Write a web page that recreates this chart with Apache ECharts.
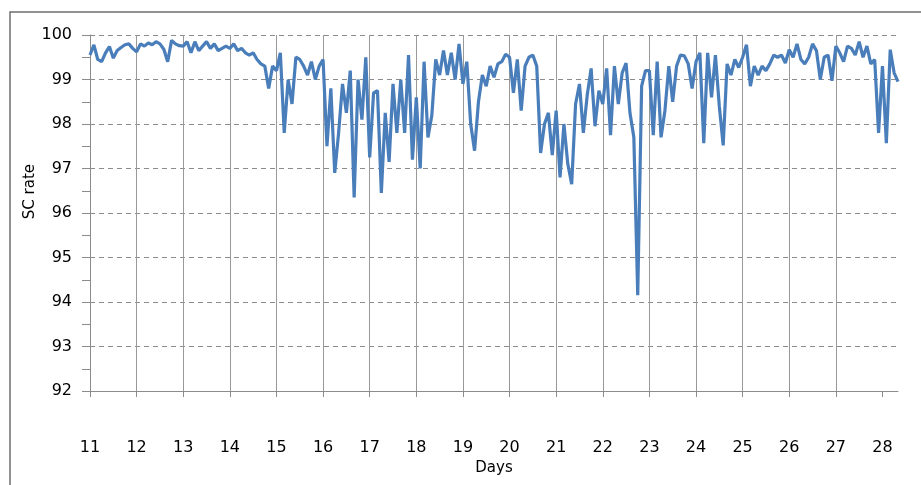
<!DOCTYPE html>
<html>
<head>
<meta charset="utf-8">
<script src="https://cdn.jsdelivr.net/npm/echarts@6/dist/echarts.min.js"></script>
<style>
html,body{margin:0;padding:0;background:#ffffff;}
#chart{width:921px;height:485px;}
</style>
</head>
<body>
<div id="chart"></div>
<script>
// Tick labels
const dayTicks = [11,12,13,14,15,16,17,18,19,20,21,22,23,24,25,26,27,28];
const yMin = 92, yMax = 100, yStep = 1;

// SC rate readings, 12 per day (every 2 hours)
const day11 = [99.55, 99.78, 99.45, 99.4, 99.6, 99.74, 99.48, 99.65, 99.72, 99.78, 99.8, 99.7];
const day12 = [99.62, 99.8, 99.75, 99.82, 99.78, 99.85, 99.8, 99.68, 99.4, 99.88, 99.8, 99.76];
const day13 = [99.75, 99.85, 99.6, 99.85, 99.65, 99.75, 99.85, 99.7, 99.8, 99.65, 99.7, 99.75];
const day14 = [99.7, 99.8, 99.65, 99.7, 99.6, 99.55, 99.6, 99.45, 99.35, 99.3, 98.8, 99.3];
const day15 = [99.2, 99.6, 97.8, 99.0, 98.45, 99.5, 99.45, 99.3, 99.1, 99.4, 99.0, 99.3];
const day16 = [99.45, 97.5, 98.8, 96.9, 97.8, 98.9, 98.25, 99.2, 96.35, 99.0, 98.1, 99.5];
const day17 = [97.25, 98.7, 98.75, 96.45, 98.25, 97.15, 98.9, 97.8, 99.0, 97.8, 99.55, 97.2];
const day18 = [98.6, 97.0, 99.4, 97.7, 98.2, 99.45, 99.1, 99.65, 99.1, 99.6, 99.0, 99.8];
const day19 = [98.9, 99.4, 98.0, 97.4, 98.5, 99.1, 98.85, 99.3, 99.05, 99.35, 99.4, 99.57];
const day20 = [99.5, 98.7, 99.45, 98.3, 99.3, 99.5, 99.55, 99.3, 97.35, 98.0, 98.25, 97.3];
const day21 = [98.3, 96.8, 98.0, 97.1, 96.65, 98.45, 98.9, 97.8, 98.65, 99.25, 97.95, 98.75];
const day22 = [98.45, 99.25, 97.75, 99.3, 98.45, 99.15, 99.37, 98.25, 97.7, 94.15, 98.85, 99.2];
const day23 = [99.2, 97.75, 99.4, 97.7, 98.3, 99.3, 98.5, 99.3, 99.55, 99.53, 99.35, 98.8];
const day24 = [99.4, 99.6, 97.57, 99.6, 98.6, 99.55, 98.4, 97.52, 99.35, 99.1, 99.45, 99.27];
const day25 = [99.5, 99.78, 98.85, 99.3, 99.1, 99.3, 99.2, 99.35, 99.55, 99.5, 99.55, 99.37];
const day26 = [99.67, 99.5, 99.8, 99.45, 99.35, 99.5, 99.8, 99.65, 99.0, 99.5, 99.55, 98.97];
const day27 = [99.75, 99.6, 99.4, 99.75, 99.7, 99.55, 99.85, 99.5, 99.75, 99.35, 99.45, 97.8];
const day28 = [99.3, 97.57, 99.67, 99.15, 98.95];

const startDay = 11;
const samplesPerDay = 12;
const values = [].concat(day11, day12, day13, day14, day15, day16, day17, day18, day19,
  day20, day21, day22, day23, day24, day25, day26, day27, day28);
const points = values.map((v, i) => [startDay + i / samplesPerDay, v]);
const xEnd = startDay + (values.length - 1) / samplesPerDay;

const chart = echarts.init(document.getElementById('chart'));
chart.setOption({
  animation: false,
  backgroundColor: '#ffffff',
  grid: { left: 90, right: 23, top: 35, bottom: 94, containLabel: false, outerBoundsMode: 'none' },
  graphic: [
    { type: 'rect', silent: true, z: -1,
      shape: { x: 10, y: 12, width: 930, height: 490 },
      style: { fill: 'none', stroke: '#6e6e6e', lineWidth: 1.5 } },
    { type: 'text', left: 23, top: 164, rotation: Math.PI / 2,
      style: { text: 'SC rate', font: '15px "DejaVu Sans"', fill: '#000000' } }
  ],
  xAxis: {
    type: 'value',
    min: startDay,
    max: xEnd,
    interval: 1,
    name: 'Days',
    nameLocation: 'middle',
    nameGap: 68,
    nameTextStyle: { fontFamily: 'DejaVu Sans', fontSize: 15, color: '#000000' },
    axisLine: { show: true, lineStyle: { color: '#8c8c8c', width: 1 } },
    axisTick: { show: true, length: 6, customValues: dayTicks, lineStyle: { color: '#8c8c8c' } },
    axisLabel: {
      customValues: dayTicks,
      margin: 49,
      fontFamily: 'DejaVu Sans',
      fontSize: 16,
      color: '#000000'
    },
    splitLine: { show: true, showMinLine: true, showMaxLine: false, lineStyle: { color: '#999999', width: 1, type: 'solid' } }
  },
  yAxis: {
    type: 'value',
    min: yMin,
    max: yMax,
    interval: yStep,
    axisLine: { show: true, lineStyle: { color: '#8c8c8c', width: 1 } },
    axisTick: { show: true, length: 8, lineStyle: { color: '#8c8c8c' } },
    minorTick: { show: true, splitNumber: 2, length: 8, lineStyle: { color: '#8c8c8c' } },
    axisLabel: { margin: 18, fontFamily: 'DejaVu Sans', fontSize: 16, color: '#000000' },
    splitLine: { show: true, lineStyle: { color: '#8c8c8c', width: 1, type: [5, 4] } }
  },
  series: [{
    type: 'line',
    data: points,
    showSymbol: false,
    symbol: 'none',
    lineStyle: { color: '#4a7ebb', width: 3.2 },
    itemStyle: { color: '#4a7ebb' }
  }]
});
</script>
</body>
</html>
